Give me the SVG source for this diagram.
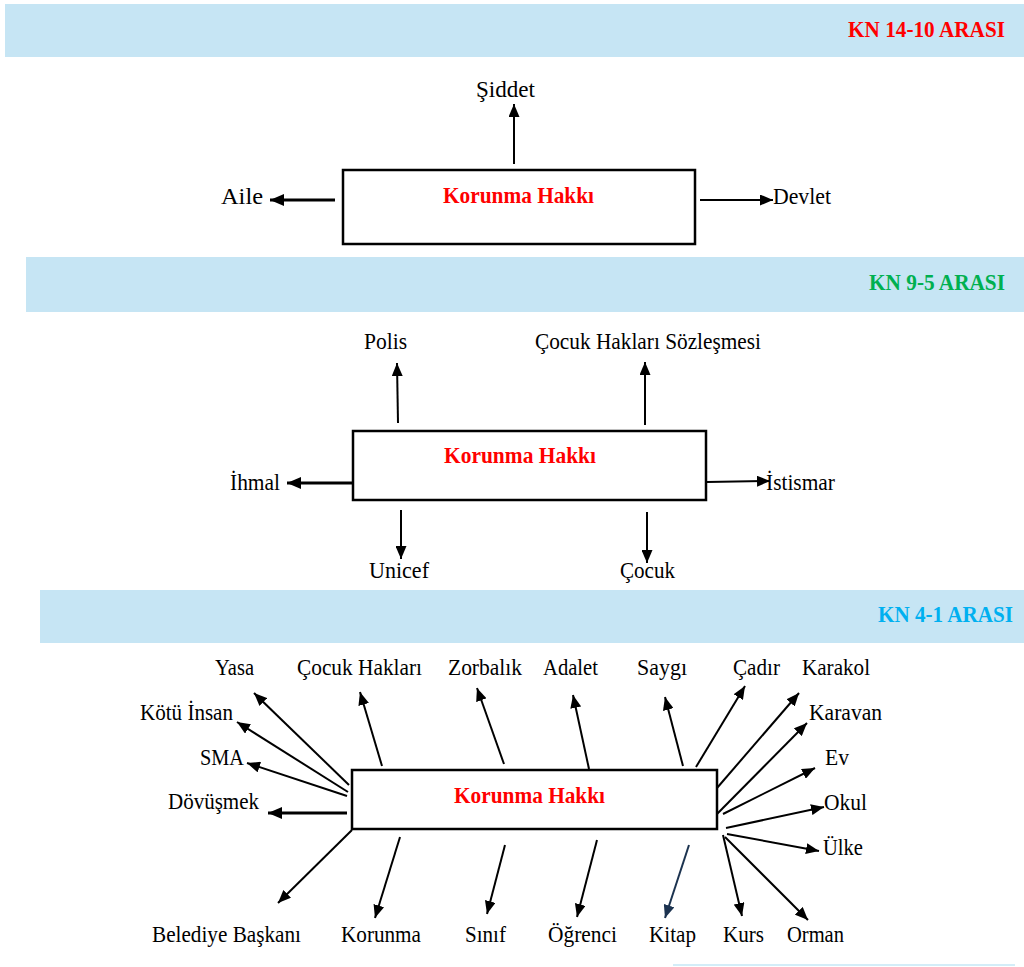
<svg xmlns="http://www.w3.org/2000/svg" width="1024" height="967" viewBox="0 0 1024 967">
<style>
.band{fill:#c6e5f4}
.title{font-family:"Liberation Serif",serif;font-weight:bold;font-size:24px}
.box{fill:#fff;stroke:#000;stroke-width:2.5}
.bt{font-family:"Liberation Serif",serif;font-weight:bold;font-size:24px;fill:#ff0000}
.lb{font-family:"Liberation Serif",serif;font-size:24px;fill:#000}
.ar{stroke:#000;stroke-width:2;fill:none;marker-end:url(#ah)}
.tk{stroke:#000;stroke-width:3;fill:none;marker-end:url(#ahb)}
.nv{stroke:#1c3350;stroke-width:2;fill:none;marker-end:url(#ahn)}
</style>
<defs>
<marker id="ah" markerUnits="userSpaceOnUse" markerWidth="13" markerHeight="11" refX="13" refY="5.5" orient="auto"><path d="M0,0 L13,5.5 L0,11 z" fill="#000"/></marker>
<marker id="ahb" markerUnits="userSpaceOnUse" markerWidth="14" markerHeight="12" refX="14" refY="6" orient="auto"><path d="M0,0 L14,6 L0,12 z" fill="#000"/></marker>
<marker id="ahn" markerUnits="userSpaceOnUse" markerWidth="13" markerHeight="11" refX="13" refY="5.5" orient="auto"><path d="M0,0 L13,5.5 L0,11 z" fill="#1c3350"/></marker>
</defs>
<rect width="1024" height="967" fill="#fff"/>
<g id="band1"><rect class="band" x="5" y="4" width="1019" height="53"/><text class="title" x="848" y="37" textLength="157" lengthAdjust="spacingAndGlyphs" fill="#ff0000">KN 14-10 ARASI</text></g>
<g id="band2"><rect class="band" x="26" y="257" width="998" height="55"/><text class="title" x="869" y="290" textLength="136" lengthAdjust="spacingAndGlyphs" fill="#00b050">KN 9-5 ARASI</text></g>
<g id="band3"><rect class="band" x="40" y="590" width="984" height="53"/><text class="title" x="878" y="622" textLength="135" lengthAdjust="spacingAndGlyphs" fill="#00b0f0">KN 4-1 ARASI</text></g>
<line x1="673" y1="965" x2="1015" y2="965" stroke="#d3edf8" stroke-width="2"/>
<g id="connectors">
<line class="ar" x1="514" y1="164" x2="514" y2="104"/>
<line class="tk" x1="335" y1="200" x2="270" y2="200"/>
<line class="ar" x1="700" y1="200" x2="773" y2="200"/>
<line class="ar" x1="398" y1="423" x2="397" y2="363"/>
<line class="ar" x1="645" y1="425" x2="645" y2="362"/>
<line class="tk" x1="353" y1="483" x2="287" y2="483"/>
<line class="ar" x1="707" y1="482" x2="770" y2="481"/>
<line class="ar" x1="401" y1="510" x2="401" y2="559"/>
<line class="ar" x1="647" y1="512" x2="647" y2="563"/>
<line class="ar" x1="349" y1="785" x2="254" y2="693"/>
<line class="ar" x1="348" y1="792" x2="237" y2="722"/>
<line class="ar" x1="347" y1="796" x2="247" y2="763"/>
<line class="tk" x1="347" y1="813" x2="268" y2="813"/>
<line class="ar" x1="382" y1="766" x2="360" y2="692"/>
<line class="ar" x1="504" y1="764" x2="477" y2="688"/>
<line class="ar" x1="589" y1="769" x2="573" y2="695"/>
<line class="ar" x1="683" y1="766" x2="665" y2="697"/>
<line class="ar" x1="696" y1="767" x2="745" y2="686"/>
<line class="ar" x1="717" y1="788" x2="799" y2="693"/>
<line class="ar" x1="717" y1="814" x2="807" y2="723"/>
<line class="ar" x1="723" y1="814" x2="815" y2="768"/>
<line class="ar" x1="726" y1="828" x2="824" y2="807"/>
<line class="ar" x1="727" y1="834" x2="819" y2="851"/>
<line class="ar" x1="352" y1="830" x2="278" y2="903"/>
<line class="ar" x1="400" y1="837" x2="375" y2="918"/>
<line class="ar" x1="505" y1="845" x2="487" y2="914"/>
<line class="ar" x1="597" y1="840" x2="577" y2="917"/>
<line class="nv" x1="689" y1="845" x2="665" y2="918"/>
<line class="ar" x1="723" y1="835" x2="742" y2="916"/>
<line class="ar" x1="725" y1="837" x2="808" y2="920"/>
</g>
<g id="box1"><rect class="box" x="343" y="170" width="352" height="74"/><text class="bt" x="443" y="203" textLength="151" lengthAdjust="spacingAndGlyphs">Korunma Hakkı</text></g>
<g id="box2"><rect class="box" x="353" y="431" width="353" height="69"/><text class="bt" x="444" y="463" textLength="152" lengthAdjust="spacingAndGlyphs">Korunma Hakkı</text></g>
<g id="box3"><rect class="box" x="352" y="770" width="365" height="59"/><text class="bt" x="454" y="803" textLength="151" lengthAdjust="spacingAndGlyphs">Korunma Hakkı</text></g>
<g id="n-siddet"><text class="lb" x="476" y="97" textLength="59" lengthAdjust="spacingAndGlyphs">Şiddet</text></g>
<g id="n-aile"><text class="lb" x="221" y="204" textLength="42" lengthAdjust="spacingAndGlyphs">Aile</text></g>
<g id="n-devlet"><text class="lb" x="773" y="204" textLength="58" lengthAdjust="spacingAndGlyphs">Devlet</text></g>
<g id="n-polis"><text class="lb" x="364" y="349" textLength="43" lengthAdjust="spacingAndGlyphs">Polis</text></g>
<g id="n-chs"><text class="lb" x="535" y="349" textLength="226" lengthAdjust="spacingAndGlyphs">Çocuk Hakları Sözleşmesi</text></g>
<g id="n-ihmal"><text class="lb" x="230" y="490" textLength="50" lengthAdjust="spacingAndGlyphs">İhmal</text></g>
<g id="n-istismar"><text class="lb" x="766" y="490" textLength="69" lengthAdjust="spacingAndGlyphs">İstismar</text></g>
<g id="n-unicef"><text class="lb" x="369" y="578" textLength="60" lengthAdjust="spacingAndGlyphs">Unicef</text></g>
<g id="n-cocuk"><text class="lb" x="620" y="578" textLength="55" lengthAdjust="spacingAndGlyphs">Çocuk</text></g>
<g id="n-yasa"><text class="lb" x="215" y="675" textLength="39" lengthAdjust="spacingAndGlyphs">Yasa</text></g>
<g id="n-cocukhaklari"><text class="lb" x="297" y="675" textLength="125" lengthAdjust="spacingAndGlyphs">Çocuk Hakları</text></g>
<g id="n-zorbalik"><text class="lb" x="448" y="675" textLength="74" lengthAdjust="spacingAndGlyphs">Zorbalık</text></g>
<g id="n-adalet"><text class="lb" x="543" y="675" textLength="55" lengthAdjust="spacingAndGlyphs">Adalet</text></g>
<g id="n-saygi"><text class="lb" x="637" y="675" textLength="50" lengthAdjust="spacingAndGlyphs">Saygı</text></g>
<g id="n-cadir"><text class="lb" x="733" y="675" textLength="47" lengthAdjust="spacingAndGlyphs">Çadır</text></g>
<g id="n-karakol"><text class="lb" x="802" y="675" textLength="68" lengthAdjust="spacingAndGlyphs">Karakol</text></g>
<g id="n-kotuinsan"><text class="lb" x="140" y="720" textLength="93" lengthAdjust="spacingAndGlyphs">Kötü İnsan</text></g>
<g id="n-sma"><text class="lb" x="200" y="765" textLength="44" lengthAdjust="spacingAndGlyphs">SMA</text></g>
<g id="n-dovusmek"><text class="lb" x="168" y="809" textLength="91" lengthAdjust="spacingAndGlyphs">Dövüşmek</text></g>
<g id="n-karavan"><text class="lb" x="809" y="720" textLength="73" lengthAdjust="spacingAndGlyphs">Karavan</text></g>
<g id="n-ev"><text class="lb" x="825" y="765" textLength="24" lengthAdjust="spacingAndGlyphs">Ev</text></g>
<g id="n-okul"><text class="lb" x="824" y="810" textLength="43" lengthAdjust="spacingAndGlyphs">Okul</text></g>
<g id="n-ulke"><text class="lb" x="823" y="855" textLength="40" lengthAdjust="spacingAndGlyphs">Ülke</text></g>
<g id="n-belediye"><text class="lb" x="152" y="942" textLength="149" lengthAdjust="spacingAndGlyphs">Belediye Başkanı</text></g>
<g id="n-korunma"><text class="lb" x="341" y="942" textLength="80" lengthAdjust="spacingAndGlyphs">Korunma</text></g>
<g id="n-sinif"><text class="lb" x="465" y="942" textLength="41" lengthAdjust="spacingAndGlyphs">Sınıf</text></g>
<g id="n-ogrenci"><text class="lb" x="548" y="942" textLength="69" lengthAdjust="spacingAndGlyphs">Öğrenci</text></g>
<g id="n-kitap"><text class="lb" x="649" y="942" textLength="47" lengthAdjust="spacingAndGlyphs">Kitap</text></g>
<g id="n-kurs"><text class="lb" x="723" y="942" textLength="41" lengthAdjust="spacingAndGlyphs">Kurs</text></g>
<g id="n-orman"><text class="lb" x="787" y="942" textLength="57" lengthAdjust="spacingAndGlyphs">Orman</text></g>
</svg>
